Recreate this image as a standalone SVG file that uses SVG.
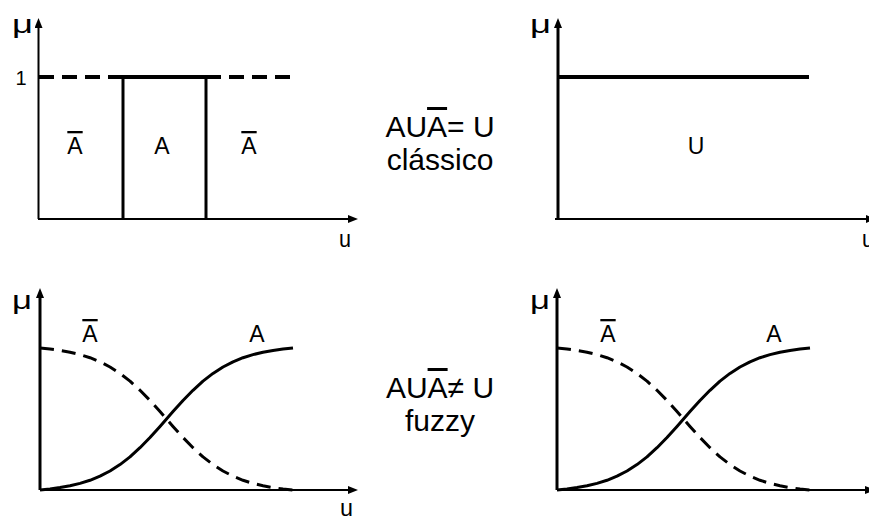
<svg xmlns="http://www.w3.org/2000/svg" width="869" height="519" viewBox="0 0 869 519">
<defs>
<style>
.t{font-family:"Liberation Sans",Arial,sans-serif;fill:#000}
.ax{stroke:#000;fill:none}
.ob{text-decoration:overline}
.cv{stroke:#000;stroke-width:3;fill:none;stroke-linejoin:round}
.dash{stroke-dasharray:14 8}
.mu{font-size:26px}
.lb{font-size:23px}
</style>
<marker id="arr" markerUnits="userSpaceOnUse" viewBox="0 0 10 8" markerWidth="10" markerHeight="8" refX="2" refY="4" orient="auto">
<path d="M0,0 L10,4 L0,8 Z" fill="#000"/>
</marker>
<path id="dashedCurve" d="M40,348 L50,349 L60,350.4 L70,352.2 L80,354.6 L90,357.7 L100,361.8 L110,367 L120,373.4 L130,381.1 L140,390.3 L150,400.5 L160,411.6 L166.5,419 L173,426.4 L183,437.5 L193,447.7 L203,456.9 L213,464.6 L223,471 L233,476.2 L243,480.3 L253,483.4 L263,485.8 L273,487.6 L283,489 L293,490"/>
<path id="solidCurve" d="M40,490 L50,489 L60,487.6 L70,485.8 L80,483.4 L90,480.3 L100,476.2 L110,471 L120,464.6 L130,456.9 L140,447.7 L150,437.5 L160,426.4 L166.5,419 L173,411.6 L183,400.5 L193,390.3 L203,381.1 L213,373.4 L223,367 L233,361.8 L243,357.7 L253,354.6 L263,352.2 L273,350.4 L283,349 L293,348"/>
</defs>
<rect width="869" height="519" fill="#fff"/>

<g id="classic-left">
<line class="ax" x1="38.5" y1="219" x2="38.5" y2="26" stroke-width="2" marker-end="url(#arr)"/>
<line class="ax" x1="38" y1="219" x2="350" y2="219" stroke-width="2" marker-end="url(#arr)"/>
<line class="ax" x1="39" y1="77" x2="122" y2="77" stroke-width="4" stroke-dasharray="15 8"/>
<line class="ax" x1="121.5" y1="77" x2="207.5" y2="77" stroke-width="4"/>
<line class="ax" x1="206" y1="77" x2="293" y2="77" stroke-width="4" stroke-dasharray="15 8"/>
<line class="ax" x1="123" y1="77" x2="123" y2="219" stroke-width="3"/>
<line class="ax" x1="206" y1="77" x2="206" y2="219" stroke-width="3"/>
<text class="t" x="21" y="85" font-size="20" text-anchor="middle">1</text>
<text class="t mu" x="12" y="33" textLength="21" lengthAdjust="spacingAndGlyphs">μ</text>
<text class="t" x="339" y="247" font-size="24" textLength="12" lengthAdjust="spacingAndGlyphs">u</text>
<text class="t lb ob" x="75" y="154" text-anchor="middle">A</text>
<text class="t lb" x="162" y="154" text-anchor="middle">A</text>
<text class="t lb ob" x="249" y="154" text-anchor="middle">A</text>
</g>

<g id="classic-right">
<line class="ax" x1="558" y1="219" x2="558" y2="26" stroke-width="3" marker-end="url(#arr)"/>
<line class="ax" x1="555" y1="219" x2="868" y2="219" stroke-width="2" marker-end="url(#arr)"/>
<line class="ax" x1="558" y1="77" x2="809" y2="77" stroke-width="4"/>
<text class="t mu" x="530" y="33" textLength="21" lengthAdjust="spacingAndGlyphs">μ</text>
<text class="t" x="862" y="247" font-size="24" textLength="12" lengthAdjust="spacingAndGlyphs">u</text>
<text class="t lb" x="696" y="154" text-anchor="middle">U</text>
</g>

<g id="label-classic">
<text class="t" x="440" y="137" font-size="30" text-anchor="middle">AU<tspan class="ob">A</tspan>= U</text>
<text class="t" x="440" y="170" font-size="30" text-anchor="middle">clássico</text>
</g>

<g id="label-fuzzy">
<text class="t" x="440" y="398" font-size="30" text-anchor="middle">AU<tspan class="ob">A</tspan>≠ U</text>
<text class="t" x="440" y="431" font-size="30" text-anchor="middle">fuzzy</text>
</g>

<g id="fuzzy-left">
<line class="ax" x1="40" y1="490" x2="40" y2="296" stroke-width="3" marker-end="url(#arr)"/>
<line class="ax" x1="40" y1="490" x2="350" y2="490" stroke-width="2" marker-end="url(#arr)"/>
<use href="#dashedCurve" class="cv dash"/>
<use href="#solidCurve" class="cv"/>
<text class="t mu" x="12" y="309" textLength="20" lengthAdjust="spacingAndGlyphs">μ</text>
<text class="t lb ob" x="90" y="342" text-anchor="middle">A</text>
<text class="t lb" x="257" y="342" text-anchor="middle">A</text>
<text class="t" x="340" y="516" font-size="24" textLength="13" lengthAdjust="spacingAndGlyphs">u</text>
</g>

<g id="fuzzy-right" transform="translate(517,0)">
<line class="ax" x1="40" y1="490" x2="40" y2="296" stroke-width="3" marker-end="url(#arr)"/>
<line class="ax" x1="40" y1="490" x2="350" y2="490" stroke-width="2" marker-end="url(#arr)"/>
<use href="#dashedCurve" class="cv dash"/>
<use href="#solidCurve" class="cv"/>
<text class="t mu" x="13" y="309" textLength="20" lengthAdjust="spacingAndGlyphs">μ</text>
<text class="t lb ob" x="91" y="342" text-anchor="middle">A</text>
<text class="t lb" x="257" y="342" text-anchor="middle">A</text>
</g>
</svg>
